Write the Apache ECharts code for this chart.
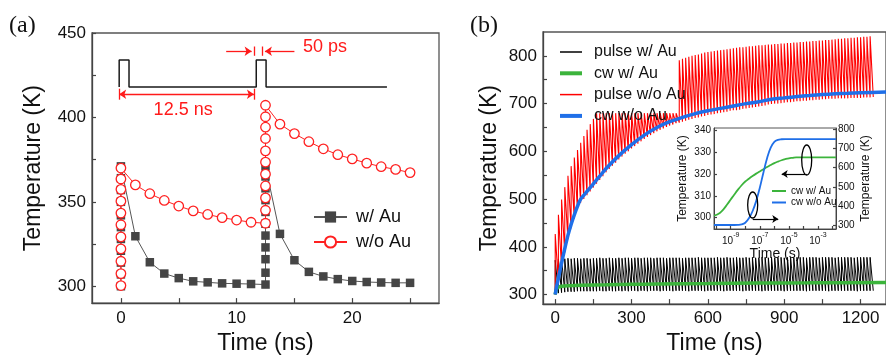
<!DOCTYPE html>
<html>
<head>
<meta charset="utf-8">
<script src="https://cdn.jsdelivr.net/npm/echarts@6/dist/echarts.min.js"></script>
<style>html,body{margin:0;padding:0;background:#fff}#chart{width:886px;height:360px}</style>
</head>
<body>
<div id="chart"></div>
<script>
const FONT = "'Liberation Sans', Arial, sans-serif";

// ---- panel (a): single pulses, 12.5 ns apart ----
const aTime = [0,0,0,0,0,0,0,0,0,0,0, 1.25,2.5,3.75,5,6.25,7.5,8.75,10,11.25,
  12.5,12.5,12.5,12.5,12.5,12.5,12.5,12.5,12.5,12.5,12.5, 13.75,15,16.25,17.5,18.75,20,21.25,22.5,23.75,25];
const aWithAu = [300,307,314,321,328,335,342,350,357,364,371, 329.6,314.2,307.5,304.8,302.9,302.3,301.7,301.5,301.3,
  301,308,316,323,330,337,344,351,358,365,371, 331,315.4,308.5,305.8,304.2,303.1,302.5,302.2,302,302];
const aWithoutAu = [300.4,307.5,314.8,322.1,329.2,336.4,343.3,350.4,357.4,363.5,370, 360,354.8,350.8,347.5,344.6,342.5,340.6,339.2,337.9,
  337.3,345,352.3,359.4,366.4,373.5,380.2,387.5,394.2,400.4,407.2, 396,390.4,385.6,381.4,377.9,375.4,372.9,370.8,369.2,367.3];
// pulse sketch on top of panel (a)
const schemT = [-0.15,-0.15,0.7,0.7,11.7,11.7,12.55,12.55,23];
const schemV = [418,434,434,418,418,434,434,418,418];
const aXLabels = [0,10,20], aXTicks = [0,5,10,15,20,25];
const aYLabels = [300,350,400,450], aYTicks = [300,325,350,375,400,425,450];

// ---- panel (b): 100 pulses, period 12.5 ns ----
const period = 12.5;
const redPeak = [427,467,499,525,549,569,587,603,618,632,645,657,668,
  680,680,680,680,680,680,680,680,680,680,680,680,680,680,680,680,680,680,680,680,680,680,680,680,680,680,
  791,794,796,798,800,802,803,805,807,808,809,810,811,812,813,814,815,816,817,818,818,819,820,820,821,
  822,822,823,824,824,825,825,826,826,827,827,828,828,829,829,830,830,831,831,832,832,833,833,834,835,
  836,836,837,837,838,838,839,839,840,840,841];
const redLow = [300, 326,358,388,416,439,459,477,492,500,508, 516,524,532,540,548,556,563,570,576,583,
  589,595,600,606,611,616,621,626,630,634, 638,642,645,648,651,654,656,659,660,662,
  664,666,668,670,671,673,674,676,677,678, 680,681,682,683,685,686,686,687,689,690,
  691,692,693,694,695,696,698,699,700,700, 701,702,703,703,704,705,705,706,706,707,
  707,708,708,709,709,710,710,710,711,711, 711,711,712,712,712,712,713,713,713,714];
const blackPeak = [372,374,375,375,376,375,376,376,375,376, 376,375,376,376,377,376,376,377,376,376,
  377,376,377,377,376,377,377,376,377,377, 377,376,377,377,377,376,377,377,377,377,
  376,377,377,377,377,378,377,377,377,377, 377,378,377,377,378,377,377,378,377,377,
  378,377,378,377,377,378,378,377,378,377, 378,378,377,378,378,377,378,378,378,377,
  378,378,378,377,378,378,378,378,377,378, 378,378,378,378,377,378,378,378,378,378];
const blackLow = [300, 303,304,305,306,306,306,307,307,307,307, 307,307,307,308,307,307,308,307,307,308,
  307,308,307,308,308,307,308,308,307,308, 308,308,307,308,308,308,307,308,308,308,
  308,307,308,308,308,308,307,308,308,308, 308,308,307,308,308,308,308,308,307,308,
  308,308,308,308,307,308,308,308,308,308, 308,307,308,308,308,308,308,308,307,308,
  308,308,308,308,308,307,308,308,308,308, 308,308,308,308,307,308,308,308,308,308];
const cwAuT = [0,3,6,10,15,25,50,100,200,300,400,600,800,1000,1300];
const cwAuV = [300,308,312,314.5,316,317.5,318.5,319.5,320.5,321.5,322,323,324,324.5,325.3];
const cwNoAuT = [0,6,12.5,25,37.5,50,62.5,75,87.5,100,125,150,175,200,250,300,350,400,450,500,550,600,650,700,750,800,850,900,950,1000,1050,1100,1150,1200,1300];
const cwNoAuV = [300,318,334,366,396,424,447,467,485,500,516,532,548,564,591,614,634,650,662,671,679,685,690,695,700,704,709,712,715,717,719,720.5,721.5,722.5,724.5];
const bXLabels = [0,300,600,900,1200], bXTicks = [0,150,300,450,600,750,900,1050,1200];
const bYLabels = [300,400,500,600,700,800], bYTicks = [300,350,400,450,500,550,600,650,700,750,800];

// ---- inset: cw heating vs log time ----
const insetLogT = [-10.15,-9.75,-9.5,-9.25,-9,-8.75,-8.5,-8.25,-8,-7.75,-7.5,-7.25,-7,-6.75,-6.5,-6.25,-6,-5.75,-5.5,-5.25,-5,-4.75,-4.5,-4,-3,-1.76];
const insetAu = [300.9,302.2,303.8,306,308.3,310.6,312.8,314.8,316.5,317.8,319,320.1,321.1,322.1,323.1,324,324.9,325.6,326.2,326.7,327.1,327.3,327.5,327.5,327.5,327.5];
const insetNoAu = [300,300,300,300,300,300,300.5,303,312,335,372,425,495,575,650,705,735,746,749,750,750,750,750,750,750,750];
const inXLabels = [1e-9,1e-7,1e-5,1e-3], inXTicks = [1e-10,1e-9,1e-8,1e-7,1e-6,1e-5,1e-4,1e-3,1e-2];
const inYLabels = [300,310,320,330,340], inY2Labels = [300,400,500,600,700,800];

function sawtooth(low, peak) {
  const d = [];
  for (let n = 0; n < peak.length; n++) {
    d.push([n * period, low[n]]);
    d.push([n * period + 0.05, peak[n]]);
  }
  d.push([peak.length * period, low[peak.length]]);
  return d;
}
const pairs = (xs, ys) => xs.map((x, i) => [x, ys[i]]);

const chart = echarts.init(document.getElementById('chart'));
const axisCol = '#444';
const txt = '#111';
const GREEN = '#3cb43c', BLUE = '#1f6fe8', RED = '#ff0000';

function valAxis(o) {
  return Object.assign({
    type: 'value', splitLine: {show: false},
    axisLine: {show: true, onZero: false, lineStyle: {color: axisCol, width: 1.3}},
    nameLocation: 'middle',
    nameTextStyle: {fontSize: 23, color: txt, fontFamily: FONT}
  }, o);
}
function ticks(vals, len) {
  return {show: true, inside: true, length: len || 4, lineStyle: {color: axisCol, width: 1.2}, customValues: vals};
}
function labels(vals, size, margin, extra) {
  return Object.assign({customValues: vals, fontSize: size, color: txt, fontFamily: FONT, margin: margin,
    formatter: v => String(v)}, extra || {});
}
const thinAxisLine = {show: true, onZero: false, lineStyle: {color: axisCol, width: 1}};

const option = {
  animation: false,
  textStyle: {fontFamily: FONT},
  grid: [
    {left: 92, top: 33, width: 347, height: 279, show: true, borderColor: '#555', borderWidth: 1.3},
    {left: 543, top: 32, width: 347, height: 278, show: true, borderColor: '#555', borderWidth: 1.3},
    {left: 714, top: 128, width: 122, height: 101, show: true, borderColor: '#555', borderWidth: 1}
  ],
  xAxis: [
    valAxis({gridIndex: 0, min: -2.5, max: 27.5, name: 'Time (ns)', nameGap: 22,
      axisTick: ticks(aXTicks, 5), axisLabel: labels(aXLabels, 17, 7)}),
    valAxis({gridIndex: 1, min: -48, max: 1300, name: 'Time (ns)', nameGap: 22,
      axisTick: ticks(bXTicks, 5), axisLabel: labels(bXLabels, 17, 6)}),
    valAxis({type: 'log', gridIndex: 2, min: Math.pow(10, -10.15), max: Math.pow(10, -1.76),
      name: 'Time (s)', nameGap: 15, nameTextStyle: {fontSize: 14, color: txt, fontFamily: FONT},
      axisLine: thinAxisLine,
      axisTick: ticks(inXTicks, 3),
      axisLabel: labels(inXLabels, 10, 3, {
        formatter: v => '{b|10}{s|' + Math.round(Math.log10(v)) + '}',
        rich: {b: {fontSize: 10, lineHeight: 14, verticalAlign: 'bottom', color: txt},
               s: {fontSize: 7, lineHeight: 8, verticalAlign: 'top', color: txt}}
      })})
  ],
  yAxis: [
    valAxis({gridIndex: 0, min: 290, max: 450, name: 'Temperature (K)', nameGap: 47,
      axisTick: ticks(aYTicks, 4), axisLabel: labels(aYLabels, 17, 6)}),
    valAxis({gridIndex: 1, min: 280, max: 850, name: 'Temperature (K)', nameGap: 42,
      axisTick: ticks(bYTicks, 4), axisLabel: labels(bYLabels, 17, 6)}),
    valAxis({gridIndex: 2, min: 294.85, max: 340.9, name: 'Temperature (K)', nameGap: 25,
      nameTextStyle: {fontSize: 12, color: txt, fontFamily: FONT},
      axisLine: thinAxisLine,
      axisTick: ticks(inYLabels, 3), axisLabel: labels(inYLabels, 10, 3)}),
    valAxis({gridIndex: 2, position: 'right', min: 279, max: 808, name: 'Temperature (K)', nameGap: 24,
      nameTextStyle: {fontSize: 12, color: txt, fontFamily: FONT},
      axisLine: thinAxisLine,
      axisTick: ticks(inY2Labels, 3), axisLabel: labels(inY2Labels, 10, 2)})
  ],
  legend: [
    {data: ['w/ Au', 'w/o Au'], orient: 'vertical', left: 308, top: 203, itemWidth: 33, itemHeight: 14, itemGap: 7,
      textStyle: {fontSize: 18, color: txt, fontFamily: FONT, padding: [0, 0, 0, 4]}},
    {data: [
        {name: 'pulse w/ Au', lineStyle: {width: 1.5, color: '#000'}},
        {name: 'cw w/ Au', lineStyle: {width: 4, color: GREEN}},
        {name: 'pulse w/o Au', lineStyle: {width: 1.5, color: RED}},
        {name: 'cw w/o Au', lineStyle: {width: 4, color: BLUE}}],
      orient: 'vertical', left: 553, top: 39,
      itemWidth: 22, itemHeight: 14, itemGap: 5.3, itemStyle: {opacity: 0},
      textStyle: {fontSize: 16, color: txt, fontFamily: FONT, padding: [0, 0, 0, 7]}},
    {data: [
        {name: 'cw w/ Au', lineStyle: {width: 2, color: GREEN}},
        {name: 'cw w/o Au', lineStyle: {width: 2, color: BLUE}}],
      orient: 'vertical', left: 766, top: 181, itemWidth: 14, itemHeight: 8, itemGap: 1.5,
      itemStyle: {opacity: 0}, textStyle: {fontSize: 10, color: txt, fontFamily: FONT}}
  ],
  series: [
    {name: 'pulse sketch', type: 'line', xAxisIndex: 0, yAxisIndex: 0, showSymbol: false, symbol: 'none',
      data: pairs(schemT, schemV), lineStyle: {color: '#1a1a1a', width: 1.5}, silent: true,
      markLine: {silent: true, symbol: ['none', 'none'], symbolSize: 7, label: {show: false},
        lineStyle: {color: '#ff1a1a', width: 1.3, type: 'solid'},
        data: [
          [{coord: [-0.15, 413.7], symbol: 'arrow'}, {coord: [11.5, 413.7], symbol: 'arrow'}],
          [{coord: [-0.15, 410.5]}, {coord: [-0.15, 417]}],
          [{coord: [11.5, 410.5]}, {coord: [11.5, 417]}],
          [{coord: [9.1, 439.2]}, {coord: [11.3, 439.2], symbol: 'arrow'}],
          [{coord: [15, 439.2]}, {coord: [12.45, 439.2], symbol: 'arrow'}],
          [{coord: [11.5, 436.5]}, {coord: [11.5, 442]}],
          [{coord: [12.25, 436.5]}, {coord: [12.25, 442]}]
        ]},
      markPoint: {silent: true, symbol: 'rect', symbolSize: 1, itemStyle: {color: 'rgba(0,0,0,0)'},
        label: {show: true, position: 'inside', formatter: '{b}', color: '#ff1a1a', fontSize: 18, fontFamily: FONT},
        data: [{name: '12.5 ns', coord: [5.38, 404.6]}, {name: '50 ps', coord: [17.64, 441.4]}]}
    },
    {name: 'w/ Au', type: 'line', xAxisIndex: 0, yAxisIndex: 0, data: pairs(aTime, aWithAu),
      symbol: 'rect', symbolSize: 8.5, itemStyle: {color: '#454545'}, lineStyle: {color: '#555', width: 1}},
    {name: 'w/o Au', type: 'line', xAxisIndex: 0, yAxisIndex: 0, data: pairs(aTime, aWithoutAu),
      symbol: 'circle', symbolSize: 9.5, itemStyle: {color: '#fff', borderColor: '#ff2020', borderWidth: 1.3},
      lineStyle: {color: '#ff2020', width: 1}},
    {name: 'pulse w/ Au', type: 'line', xAxisIndex: 1, yAxisIndex: 1, data: sawtooth(blackLow, blackPeak),
      symbol: 'none', lineStyle: {color: '#000', width: 1}, itemStyle: {color: '#000'}},
    {name: 'pulse w/o Au', type: 'line', xAxisIndex: 1, yAxisIndex: 1, data: sawtooth(redLow, redPeak),
      symbol: 'none', lineStyle: {color: RED, width: 1.1}, itemStyle: {color: RED}},
    {name: 'cw w/ Au', type: 'line', xAxisIndex: 1, yAxisIndex: 1, data: pairs(cwAuT, cwAuV), smooth: 0.3,
      symbol: 'none', lineStyle: {color: GREEN, width: 3.5}, itemStyle: {color: GREEN}},
    {name: 'cw w/o Au', type: 'line', xAxisIndex: 1, yAxisIndex: 1, data: pairs(cwNoAuT, cwNoAuV), smooth: 0.3,
      symbol: 'none', lineStyle: {color: BLUE, width: 3.5}, itemStyle: {color: BLUE}},
    {name: 'cw w/ Au', type: 'line', xAxisIndex: 2, yAxisIndex: 2, smooth: 0.4,
      data: insetLogT.map((e, i) => [Math.pow(10, e), insetAu[i]]),
      symbol: 'none', lineStyle: {color: GREEN, width: 1.8}, itemStyle: {color: GREEN},
      markLine: {silent: true, symbol: ['none', 'none'], symbolSize: 6, label: {show: false},
        lineStyle: {color: '#000', width: 1.2, type: 'solid'},
        data: [
          [{coord: [1.68e-4, 319.9]}, {coord: [3.2e-6, 319.9], symbol: 'arrow'}],
          [{coord: [3.24e-8, 299.4]}, {coord: [1.86e-6, 299.4], symbol: 'arrow'}]
        ]}},
    {name: 'cw w/o Au', type: 'line', xAxisIndex: 2, yAxisIndex: 3, smooth: 0.4,
      data: insetLogT.map((e, i) => [Math.pow(10, e), insetNoAu[i]]),
      symbol: 'none', lineStyle: {color: BLUE, width: 1.8}, itemStyle: {color: BLUE}}
  ]
};
chart.setOption(option);

// ellipses marking which inset curve belongs to which axis
const e1 = chart.convertToPixel({xAxisIndex: 2, yAxisIndex: 2}, [1.68e-4, 326.3]);
const e2 = chart.convertToPixel({xAxisIndex: 2, yAxisIndex: 2}, [3.24e-8, 305.8]);
chart.setOption({
  graphic: [
    {type: 'text', left: 9, top: 14, style: {text: '(a)', font: '24px "Liberation Serif"', fill: '#111'}},
    {type: 'text', left: 470, top: 14, style: {text: '(b)', font: '24px "Liberation Serif"', fill: '#111'}},
    {type: 'ellipse', shape: {cx: e1[0], cy: e1[1], rx: 5, ry: 15}, style: {fill: 'none', stroke: '#000', lineWidth: 1.3}, z: 100},
    {type: 'ellipse', shape: {cx: e2[0], cy: e2[1], rx: 5, ry: 13}, style: {fill: 'none', stroke: '#000', lineWidth: 1.3}, z: 100}
  ]
});
</script>
</body>
</html>
